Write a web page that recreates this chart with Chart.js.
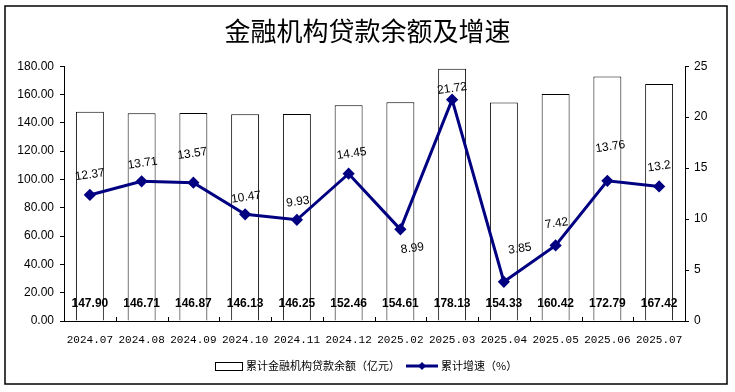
<!DOCTYPE html>
<html><head><meta charset="utf-8">
<script src="https://cdn.jsdelivr.net/npm/chart.js@4/dist/chart.umd.min.js"></script>
<style>html,body{margin:0;padding:0;background:#fff}#wrap{width:735px;height:392px;position:relative}canvas{display:block}</style>
</head><body><div id="wrap"><canvas id="c" width="735" height="392"></canvas></div>
<script>
const titleText = '金融机构贷款余额及增速';
const categories = ['2024.07','2024.08','2024.09','2024.10','2024.11','2024.12','2025.02','2025.03','2025.04','2025.05','2025.06','2025.07'];
const loanBalance = [147.90,146.71,146.87,146.13,146.25,152.46,154.61,178.13,154.33,160.42,172.79,167.42];
const growthRate = [12.37,13.71,13.57,10.47,9.93,14.45,8.99,21.72,3.85,7.42,13.76,13.2];
const leftTicks = [0,20,40,60,80,100,120,140,160,180];
const rightTicks = [0,5,10,15,20,25];
const seriesNames = ['累计金融机构贷款余额（亿元）','累计增速（%）'];

const NAVY = '#000080';
const lineLabelOffsets = [[0,-20],[1,-18],[-1,-29],[1,-17],[1,-18],[3,-20],[12,19],[0,-11],[16,-33],[1,-22],[3,-34],[0,-20]];

const framePlugin = {
  id: 'frame',
  beforeDraw(chart) {
    const ctx = chart.ctx;
    ctx.save();
    ctx.fillStyle = '#fff';
    ctx.fillRect(0, 0, chart.width, chart.height);
    ctx.strokeStyle = '#000';
    ctx.lineWidth = 1.5;
    ctx.strokeRect(5, 6, 722, 378);
    ctx.restore();
  },
  afterDatasetsDraw(chart) {
    const ctx = chart.ctx;
    ctx.save();
    const barMeta = chart.getDatasetMeta(0);
    ctx.font = 'bold 12px Arial, "Liberation Sans"';
    ctx.fillStyle = '#000';
    ctx.textAlign = 'center';
    ctx.textBaseline = 'middle';
    barMeta.data.forEach((el, i) => {
      ctx.fillText(loanBalance[i].toFixed(2), el.x, el.base - 17);
    });
    const lineMeta = chart.getDatasetMeta(1);
    ctx.font = '12px Arial, "Liberation Sans"';
    lineMeta.data.forEach((el, i) => {
      const off = lineLabelOffsets[i];
      ctx.save();
      ctx.translate(el.x + off[0], el.y + off[1]);
      ctx.rotate(-0.14);
      ctx.fillText(String(growthRate[i]), 0, 0);
      ctx.restore();
    });
    const xs = chart.scales.x;
    const b = chart.chartArea.bottom;
    ctx.strokeStyle = '#000';
    ctx.lineWidth = 1;
    ctx.beginPath();
    for (let i = 0; i <= categories.length; i++) {
      const px = Math.round(xs.getPixelForValue(i - 0.5)) + 0.5;
      ctx.moveTo(px, b);
      ctx.lineTo(px, b - 4);
    }
    ctx.stroke();
    ctx.restore();
  },
  afterDraw(chart) {
    const ctx = chart.ctx;
    ctx.save();
    const y = 366;
    ctx.font = '11px "Noto Sans CJK SC"';
    ctx.textBaseline = 'middle';
    ctx.textAlign = 'left';
    ctx.strokeStyle = '#000';
    ctx.lineWidth = 1;
    ctx.fillStyle = '#fff';
    ctx.fillRect(215.5, 362.5, 27, 8);
    ctx.strokeRect(215.5, 362.5, 27, 8);
    ctx.fillStyle = '#000';
    ctx.fillText(seriesNames[0], 246, y);
    ctx.strokeStyle = NAVY;
    ctx.lineWidth = 3;
    ctx.beginPath();
    ctx.moveTo(406, y); ctx.lineTo(438, y);
    ctx.stroke();
    ctx.fillStyle = NAVY;
    ctx.beginPath();
    ctx.moveTo(422, y - 4); ctx.lineTo(426, y); ctx.lineTo(422, y + 4); ctx.lineTo(418, y);
    ctx.closePath(); ctx.fill();
    ctx.fillStyle = '#000';
    ctx.fillText(seriesNames[1], 441, y);
    ctx.restore();
  }
};

new Chart(document.getElementById('c'), {
  type: 'bar',
  data: {
    labels: categories,
    datasets: [
      {
        type: 'bar', label: seriesNames[0], data: loanBalance, yAxisID: 'y',
        backgroundColor: '#fff', borderColor: '#000', borderWidth: 1,
        barPercentage: 0.54, categoryPercentage: 1, order: 2
      },
      {
        type: 'line', label: seriesNames[1], data: growthRate, yAxisID: 'y1',
        borderColor: NAVY, borderWidth: 3, backgroundColor: NAVY,
        pointStyle: 'rectRot', pointRadius: 4, pointBackgroundColor: NAVY, pointBorderColor: NAVY,
        tension: 0, order: 1
      }
    ]
  },
  options: {
    responsive: false,
    animation: false,
    devicePixelRatio: 1,
    layout: { padding: { top: 0, left: 0, right: 0, bottom: 41 } },
    plugins: {
      legend: { display: false },
      tooltip: { enabled: false },
      title: {
        display: true, text: titleText, color: '#000',
        font: { family: '"Noto Sans CJK SC"', size: 26, weight: 'normal', lineHeight: 1.2 },
        padding: { top: 16, bottom: 19 }
      }
    },
    scales: {
      x: {
        offset: true,
        grid: { display: false },
        border: { display: true, color: '#000', width: 1 },
        ticks: { color: '#000', font: { family: '"Liberation Mono"', size: 11 }, padding: 4, maxRotation: 0, autoSkip: false },
        afterFit(s) { s.height = 30; }
      },
      y: {
        position: 'left', min: 0, max: 180,
        afterBuildTicks(s) { s.ticks = leftTicks.map(v => ({ value: v })); },
        grid: { drawOnChartArea: false, drawTicks: true, tickLength: 4, color: '#000' },
        border: { display: true, color: '#000', width: 1 },
        ticks: { color: '#000', font: { family: 'Arial, "Liberation Sans"', size: 12 }, padding: 6, callback: v => Number(v).toFixed(2) },
        afterFit(s) { s.width = 64; }
      },
      y1: {
        position: 'right', min: 0, max: 25,
        afterBuildTicks(s) { s.ticks = rightTicks.map(v => ({ value: v })); },
        grid: { drawOnChartArea: false, drawTicks: true, tickLength: 4, color: '#000' },
        border: { display: true, color: '#000', width: 1 },
        ticks: { color: '#000', font: { family: 'Arial, "Liberation Sans"', size: 12 }, padding: 5, callback: v => String(v) },
        afterFit(s) { s.width = 50; }
      }
    }
  },
  plugins: [framePlugin]
});
</script>
</body></html>
